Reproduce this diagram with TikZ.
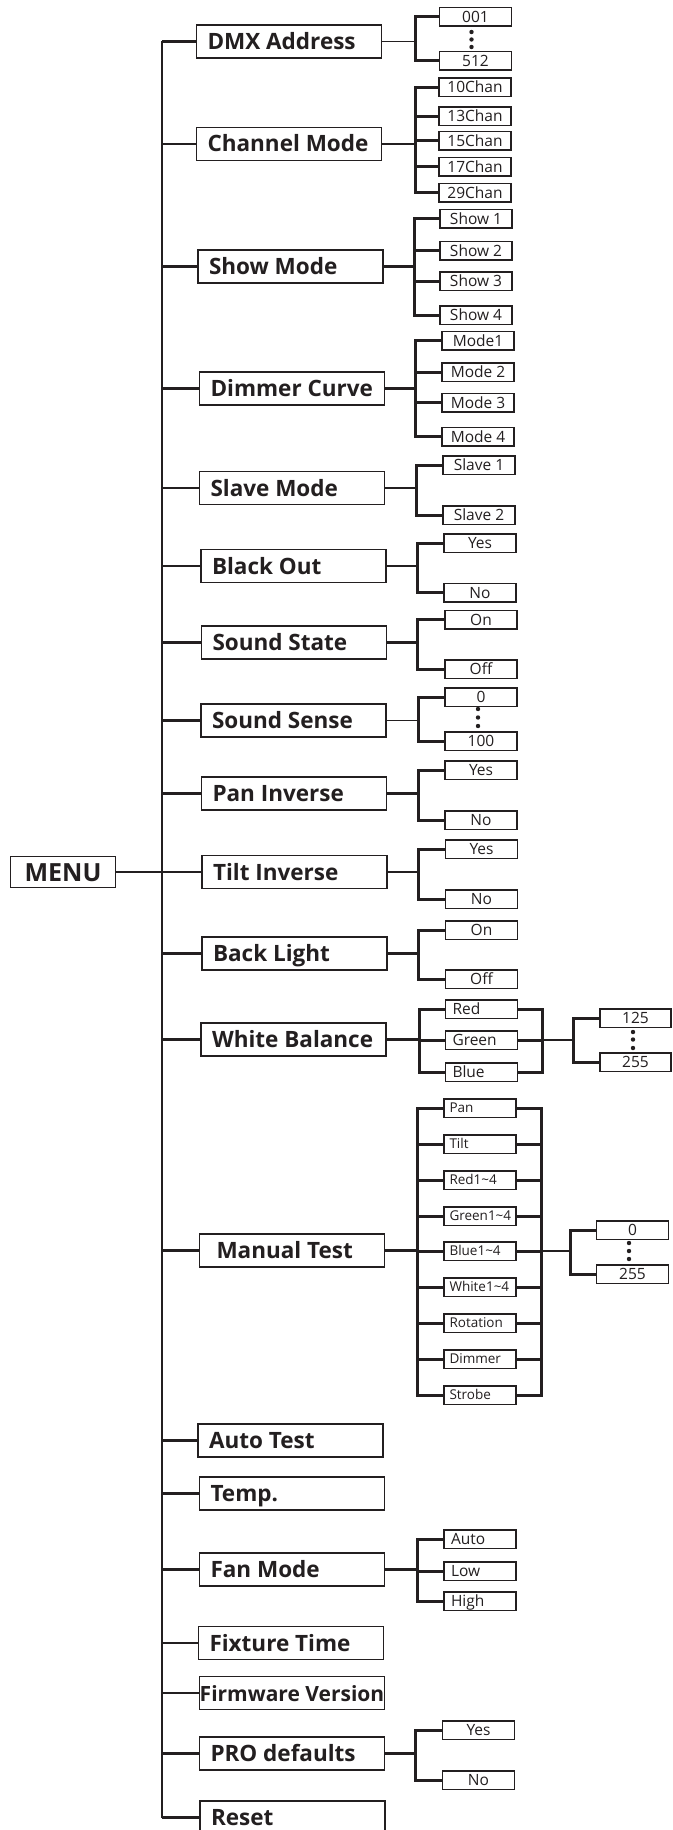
\documentclass[tikz,border=0pt]{standalone}
\usepackage{fontspec}
\newfontfamily\osans{Open Sans}
\definecolor{ink}{HTML}{231F20}
\newcommand\mainfnt{\osans\bfseries\fontsize{22.5}{25}\selectfont}
\newcommand\fwfnt{\osans\bfseries\fontsize{21}{24}\selectfont}
\newcommand\menufnt{\osans\bfseries\fontsize{25}{28}\selectfont}
\newcommand\subfnt{\osans\fontsize{15.5}{17}\selectfont}
\newcommand\smallfnt{\osans\fontsize{13.5}{15}\selectfont}
\newcommand\mylbl[1]{\makebox[163pt][l]{#1}}
\newcommand\sublbl[1]{\makebox[58pt][l]{#1}}
\newcommand\msublbl[1]{\makebox[61pt][l]{#1}}
\tikzset{
  mainbox/.style={draw=ink, line width=1.7pt, minimum height=33pt, inner xsep=11pt, inner ysep=0pt, font=\mainfnt, text=ink, text height=16.5pt, text depth=0.5pt},
  menubox/.style={draw=ink, line width=1.7pt, minimum width=105pt, minimum height=31pt, inner sep=0pt, font=\menufnt, text=ink, text height=18pt, text depth=0pt},
  subbox/.style={draw=ink, line width=1.5pt, minimum width=72pt, minimum height=18.5pt, inner sep=0pt, font=\subfnt, text=ink, text height=11.5pt, text depth=0.5pt},
  subl/.style={subbox, inner xsep=7pt},
  msub/.style={subbox, inner xsep=5.5pt, font=\smallfnt, text height=9.8pt, text depth=0pt},
  trunkline/.style={draw=ink, line width=1.8pt},
  branch/.style={draw=ink, line width=2.6pt},
  br/.style={draw=ink, line width=3pt},
  link/.style={draw=ink, line width=2.6pt},
  thinlink/.style={draw=ink, line width=1.4pt},
  dot/.style={fill=ink}
}
\begin{document}
\begin{tikzpicture}[x=1pt,y=-1pt]
\clip (0,0) rectangle (672,1830);
\fill[white] (0,0) rectangle (672,1830);
\coordinate (trunk) at (162,0);
% main menu
\node[menubox] (menu) at (63,872) {MENU};
% main boxes
\node[mainbox] (dmx) at (289,41.5) {\mylbl{DMX Address}};
\node[mainbox] (chan) at (289,144) {\mylbl{Channel Mode}};
\node[mainbox] (show) at (290.5,266.5) {\mylbl{Show Mode}};
\node[mainbox] (dim) at (292,388.5) {\mylbl{Dimmer Curve}};
\node[mainbox] (slave) at (292,488) {\mylbl{Slave Mode}};
\node[mainbox] (black) at (293.5,566) {\mylbl{Black Out}};
\node[mainbox] (sstate) at (294,642.5) {\mylbl{Sound State}};
\node[mainbox] (ssense) at (293.5,720.5) {\mylbl{Sound Sense}};
\node[mainbox] (pan) at (294,793.5) {\mylbl{Pan Inverse}};
\node[mainbox] (tilt) at (294.5,872) {\mylbl{Tilt Inverse}};
\node[mainbox] (back) at (294.5,953.5) {\mylbl{Back Light}};
\node[mainbox] (wb) at (293.5,1039.5) {\mylbl{White Balance}};
\node[mainbox] (manual) at (292,1250.5) {\mylbl{\hspace*{6pt}Manual Test}};
\node[mainbox] (auto) at (290.5,1440.5) {\mylbl{Auto Test}};
\node[mainbox] (temp) at (292,1493.5) {\mylbl{Temp.}};
\node[mainbox] (fan) at (292,1569.5) {\mylbl{Fan Mode}};
\node[mainbox] (fix) at (291,1643) {\mylbl{Fixture Time}};
\node[mainbox, inner xsep=0pt, minimum width=185pt, font=\fwfnt] (fw) at (292,1693) {Firmware Version};
\node[mainbox] (pro) at (292,1753.5) {\mylbl{PRO defaults}};
\node[mainbox] (reset) at (292.5,1817.5) {\mylbl{Reset}};
% trunk and branches
\draw[trunkline] (dmx.west -| trunk) -- (reset.west -| trunk);
\draw[branch] (menu.east) -- (menu.east -| trunk);
\foreach \m in {dmx,chan,show,dim,slave,black,sstate,ssense,pan,tilt,back,wb,manual,auto,temp,fan,fix,fw,pro,reset}
  \draw[branch] (\m.west -| trunk) -- (\m.west);
% DMX Address
\coordinate (bdmx) at (415,41.5);
\draw[thinlink] (dmx.east) -- (bdmx);
\foreach \n/\y/\t in {1/17/001,2/61/512}{
  \node[subbox] (dmx-\n) at (475.5,\y) {\t};
  \draw[br] (bdmx) |- (dmx-\n.west);
}
\foreach \y in {32,39.5,47} \fill[dot] (471.5,\y) circle (2.2);
% Channel Mode
\coordinate (bchan) at (415,144);
\draw[thinlink] (chan.east) -- (bchan);
\foreach \n/\y/\t in {1/87.5/10Chan,2/116.5/13Chan,3/141/15Chan,4/167/17Chan,5/193/29Chan}{
  \node[subbox] (chan-\n) at (475,\y) {\t};
  \draw[br] (bchan) |- (chan-\n.west);
}
% Show Mode
\coordinate (bshow) at (414,266.5);
\draw[link] (show.east) -- (bshow);
\foreach \n/\y in {1/218.5,2/250.5,3/281,4/315}{
  \node[subbox] (show-\n) at (476,\y) {Show \n};
  \draw[br] (bshow) |- (show-\n.west);
}
% Dimmer Curve
\coordinate (bdim) at (415,388.5);
\draw[link] (dim.east) -- (bdim);
\foreach \n/\y/\t in {1/340.5/Mode1,2/372/Mode 2,3/402.5/Mode 3,4/436.5/Mode 4}{
  \node[subbox] (dim-\n) at (478,\y) {\t};
  \draw[br] (bdim) |- (dim-\n.west);
}
% Slave Mode
\coordinate (bslave) at (416,488);
\draw[link] (slave.east) -- (bslave);
\foreach \n/\y in {1/465,2/515}{
  \node[subbox] (slave-\n) at (479,\y) {Slave \n};
  \draw[br] (bslave) |- (slave-\n.west);
}
% Black Out
\coordinate (bblack) at (417,566);
\draw[link] (black.east) -- (bblack);
\foreach \n/\y/\t in {1/543/Yes,2/592.5/No}{
  \node[subbox] (black-\n) at (480,\y) {\t};
  \draw[br] (bblack) |- (black-\n.west);
}
% Sound State
\coordinate (bsstate) at (417.5,642.5);
\draw[link] (sstate.east) -- (bsstate);
\foreach \n/\y/\t in {1/619.5/On,2/669/Off}{
  \node[subbox] (sstate-\n) at (481,\y) {\t};
  \draw[br] (bsstate) |- (sstate-\n.west);
}
% Sound Sense
\coordinate (bssense) at (418,720.5);
\draw[thinlink] (ssense.east) -- (bssense);
\foreach \n/\y/\t in {1/697/0,2/741/100}{
  \node[subbox] (ssense-\n) at (481,\y) {\t};
  \draw[br] (bssense) |- (ssense-\n.west);
}
\foreach \y in {709,717.5,726} \fill[dot] (478,\y) circle (2.2);
% Pan Inverse
\coordinate (bpan) at (418,793.5);
\draw[link] (pan.east) -- (bpan);
\foreach \n/\y/\t in {1/770/Yes,2/820/No}{
  \node[subbox] (pan-\n) at (481,\y) {\t};
  \draw[br] (bpan) |- (pan-\n.west);
}
% Tilt Inverse
\coordinate (btilt) at (418,872);
\draw[link] (tilt.east) -- (btilt);
\foreach \n/\y/\t in {1/849/Yes,2/899/No}{
  \node[subbox] (tilt-\n) at (481.5,\y) {\t};
  \draw[br] (btilt) |- (tilt-\n.west);
}
% Back Light
\coordinate (bback) at (418,953.5);
\draw[link] (back.east) -- (bback);
\foreach \n/\y/\t in {1/930/On,2/979/Off}{
  \node[subbox] (back-\n) at (481.5,\y) {\t};
  \draw[br] (bback) |- (back-\n.west);
}
% White Balance
\coordinate (bwb) at (419,1039.5);
\coordinate (rwb) at (542.5,1040);
\coordinate (b2wb) at (573,1040);
\draw[link] (wb.east) -- (bwb);
\foreach \n/\y/\t in {1/1009/Red,2/1040/Green,3/1072/Blue}{
  \node[subl] (wb-\n) at (481.5,\y) {\sublbl{\t}};
  \draw[br] (bwb) |- (wb-\n.west);
  \draw[br] (wb-\n.east) -| (rwb);
}
\draw[thinlink] (rwb) -- (b2wb);
\foreach \n/\y/\t in {1/1018/125,2/1062/255}{
  \node[subbox, minimum width=71pt] (wbv-\n) at (635.5,\y) {\t};
  \draw[br] (b2wb) |- (wbv-\n.west);
}
\foreach \y in {1032,1039.5,1048} \fill[dot] (633,\y) circle (2.2);
% Manual Test
\coordinate (bman) at (417,1250.5);
\coordinate (rman) at (541,1251);
\coordinate (b2man) at (570,1251);
\draw[link] (manual.east) -- (bman);
\foreach \n/\y/\t in {1/1108/Pan,2/1144/Tilt,3/1180/Red1\textasciitilde4,4/1216/Green1\textasciitilde4,5/1251/Blue1\textasciitilde4,6/1287/White1\textasciitilde4,7/1323/Rotation,8/1359/Dimmer,9/1395/Strobe}{
  \node[msub] (man-\n) at (480,\y) {\msublbl{\t}};
  \draw[br] (bman) |- (man-\n.west);
  \draw[br] (man-\n.east) -| (rman);
}
\draw[link] (rman) -- (b2man);
\foreach \n/\y/\t in {1/1230/0,2/1274/255}{
  \node[subbox] (manv-\n) at (632.5,\y) {\t};
  \draw[br] (b2man) |- (manv-\n.west);
}
\foreach \y in {1243,1251,1259} \fill[dot] (629,\y) circle (2.2);
% Fan Mode
\coordinate (bfan) at (417.5,1569.5);
\draw[link] (fan.east) -- (bfan);
\foreach \n/\y/\t in {1/1539/Auto,2/1571/Low,3/1601/High}{
  \node[subl] (fan-\n) at (480,\y) {\sublbl{\t}};
  \draw[br] (bfan) |- (fan-\n.west);
}
% PRO defaults
\coordinate (bpro) at (415,1753.5);
\draw[link] (pro.east) -- (bpro);
\foreach \n/\y/\t in {1/1730/Yes,2/1780/No}{
  \node[subbox] (pro-\n) at (478.5,\y) {\t};
  \draw[br] (bpro) |- (pro-\n.west);
}
\end{tikzpicture}
\end{document}
